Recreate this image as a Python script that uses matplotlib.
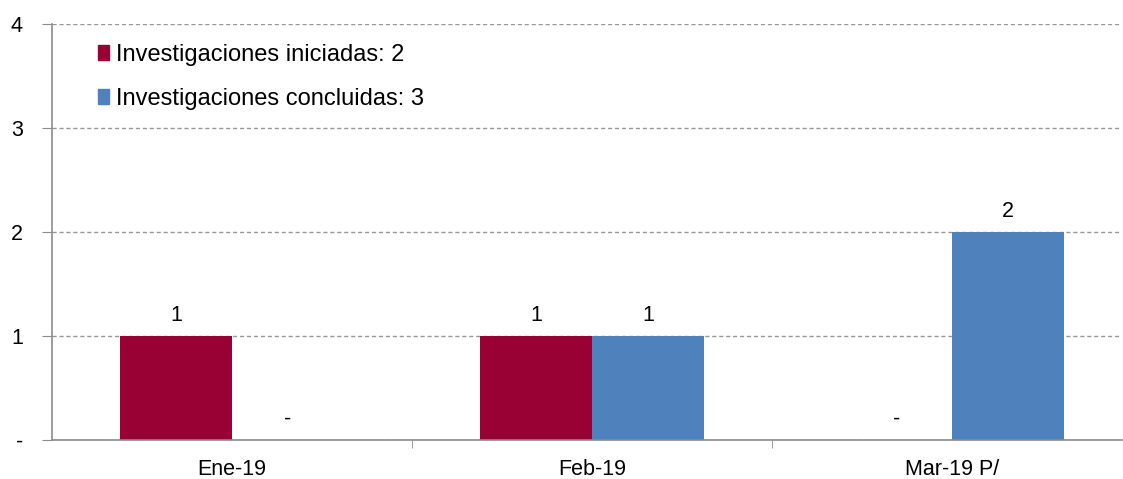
import matplotlib.pyplot as plt
import numpy as np
from matplotlib.patches import Patch

# Datos
meses = ['Ene-19', 'Feb-19', 'Mar-19 P/']
iniciadas = [1, 1, 0]
concluidas = [0, 1, 2]
etiqueta_ini = 'Investigaciones iniciadas: 2'
etiqueta_con = 'Investigaciones concluidas: 3'
yticks = [0, 1, 2, 3, 4]
ytick_labels = ['-', '1', '2', '3', '4']

ROJO = '#990033'
AZUL = '#4F81BD'
GRIS = '#8C8C8C'
FS = 15.5

plt.rcParams['font.family'] = ['Liberation Sans', 'DejaVu Sans']

fig = plt.figure(figsize=(11.23, 4.79), dpi=100)
ax = fig.add_axes([52 / 1123, 1 - 440 / 479, 1070 / 1123, 416 / 479])

x = np.arange(len(meses))
w = 0.31
ax.bar(x - w / 2, iniciadas, width=w, color=ROJO, zorder=3)
ax.bar(x + w / 2, concluidas, width=w, color=AZUL, zorder=3)

# etiquetas de valor
for xs, vals in ((x - w / 2, iniciadas), (x + w / 2, concluidas)):
    for xi, v in zip(xs, vals):
        if v == 0:
            ax.text(xi, 0.1, '-', ha='center', va='bottom', fontsize=FS)
        else:
            ax.text(xi, v + 0.1, str(v), ha='center', va='bottom', fontsize=FS)

ax.set_xlim(-0.5, 2.472)
ax.set_ylim(0, 4)
ax.set_yticks(yticks)
ax.set_yticklabels(ytick_labels, fontsize=FS)
ax.yaxis.grid(True, linestyle=(0, (3, 2)), color='#999999', linewidth=1, zorder=0)
ax.tick_params(axis='y', length=7, color=GRIS, pad=14, direction='out')

ax.set_xticks(x)
ax.set_xticklabels(meses, fontsize=FS)
ax.set_xticks([0.5, 1.5], minor=True)
ax.tick_params(axis='x', which='major', length=0, pad=14)
ax.tick_params(axis='x', which='minor', length=6, color=GRIS, direction='out')

for s in ['top', 'right']:
    ax.spines[s].set_visible(False)
for s in ['left', 'bottom']:
    ax.spines[s].set_color(GRIS)
    ax.spines[s].set_linewidth(1.2)
ax.spines['bottom'].set_zorder(4)

handles = [Patch(color=ROJO, label=etiqueta_ini), Patch(color=AZUL, label=etiqueta_con)]
ax.legend(handles=handles, loc='upper left', bbox_to_anchor=(0.0345, 0.975),
          frameon=False, fontsize=17, handlelength=0.45, handleheight=0.6,
          handletextpad=0.3, labelspacing=0.95, borderaxespad=0)

fig.savefig('out.png', dpi=100)
